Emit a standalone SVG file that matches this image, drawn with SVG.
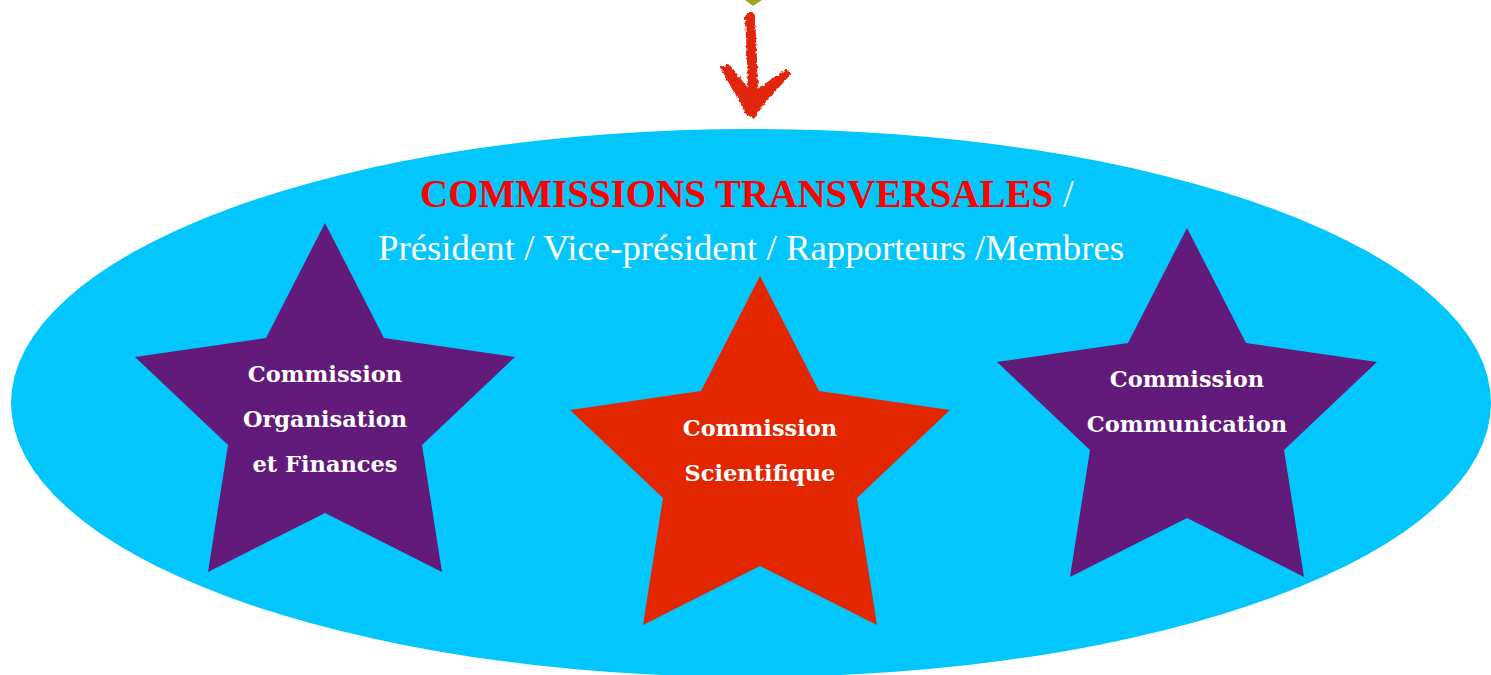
<svg xmlns="http://www.w3.org/2000/svg" xmlns:xlink="http://www.w3.org/1999/xlink" width="1491" height="675" viewBox="0 0 1491 675">
  <style>
    .pool { fill: #03C7FC; }
    .star-purple { fill: #621B7A; }
    .star-red { fill: #E12600; }
    .title { font-family: "Liberation Serif", "Times New Roman", serif; font-size: 39px; }
    .title-main { fill: #FF0000; font-weight: bold; }
    .title-sep { fill: #FFFFFF; font-weight: normal; }
    .roles { font-family: "Liberation Serif", "Times New Roman", serif; font-size: 36.8px; fill: #FFFFFF; }
    .label { font-family: "DejaVu Serif", "Liberation Serif", serif; font-size: 22.5px; font-weight: bold; fill: #FFFFFF; text-anchor: middle; }
    .sketch { fill: #E1260F; }
    .sketch-line { fill: none; stroke: #E1260F; stroke-linecap: round; stroke-linejoin: round; }
  </style>
  <defs>
    <!-- five-pointed star, origin at the top point -->
    <polygon id="star" points="0,0 59,115 190,134 97,222 117,349 0,290 -117,349 -97,222 -190,134 -59,115"/>
    <!-- rough, hand-drawn edge for the arrow -->
    <filter id="rough" x="-20%" y="-20%" width="140%" height="140%">
      <feTurbulence type="fractalNoise" baseFrequency="0.35" numOctaves="2" seed="4" result="noise"/>
      <feDisplacementMap in="SourceGraphic" in2="noise" scale="4" xChannelSelector="R" yChannelSelector="G"/>
    </filter>
  </defs>

  <!-- parent box above, only its lower tip is visible -->
  <g id="parent-node">
    <polygon points="745,0 762,0 753,6" fill="#9BA51E"/>
  </g>

  <!-- connectors -->
  <g id="connectors" filter="url(#rough)">
    <path class="sketch-line" d="M750,17 C751,40 753,70 753,104" stroke-width="10"/>
    <path class="sketch" d="M720,67 L729,64 L752,93 L786,69 L791,74 L764,104 L754,119 L746,114 Z"/>
  </g>

  <!-- transversal commissions pool -->
  <g id="commissions-transversales">
    <ellipse class="pool" cx="751" cy="403" rx="740" ry="274"/>
    <text class="title" x="420" y="207"><tspan class="title-main">COMMISSIONS TRANSVERSALES</tspan><tspan class="title-sep"> /</tspan></text>
    <text class="roles" x="378" y="260">Président / Vice-président / Rapporteurs /Membres</text>
  </g>

  <g id="commission-organisation-finances">
    <use xlink:href="#star" class="star-purple" transform="translate(325,223)"/>
    <text class="label" x="325" y="382">Commission</text>
    <text class="label" x="325" y="427">Organisation</text>
    <text class="label" x="325" y="472">et Finances</text>
  </g>

  <g id="commission-scientifique">
    <use xlink:href="#star" class="star-red" transform="translate(760,276)"/>
    <text class="label" x="760" y="436">Commission</text>
    <text class="label" x="760" y="481">Scientifique</text>
  </g>

  <g id="commission-communication">
    <use xlink:href="#star" class="star-purple" transform="translate(1187,228)"/>
    <text class="label" x="1187" y="387">Commission</text>
    <text class="label" x="1187" y="432">Communication</text>
  </g>
</svg>
